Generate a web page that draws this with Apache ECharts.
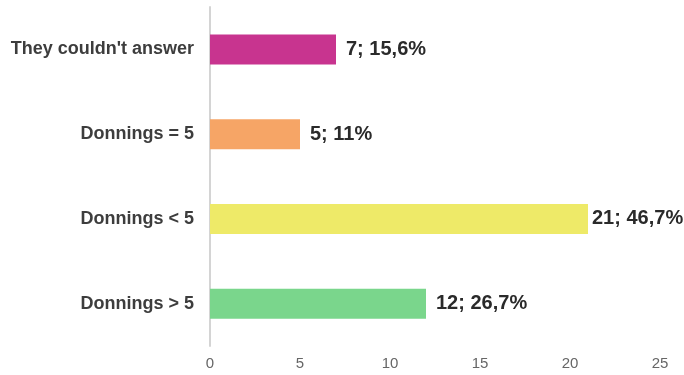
<!DOCTYPE html>
<html><head><meta charset="utf-8">
<script src="https://cdn.jsdelivr.net/npm/echarts@6/dist/echarts.min.js"></script>
<style>html,body{margin:0;padding:0;background:#fff}#c{width:684px;height:375px}</style>
</head><body><div id="c"></div>
<script>
const categories = ["Donnings > 5", "Donnings < 5", "Donnings = 5", "They couldn't answer"];
const values = [12, 21, 5, 7];
const labels = ["12; 26,7%", "21; 46,7%", "5; 11%", "7; 15,6%"];
const colors = ["#7ad68c", "#eeea68", "#f6a566", "#c8348f"];
const ticks = [0, 5, 10, 15, 20, 25];

const maxVal = Math.max(...values);
const chart = echarts.init(document.getElementById('c'), null, {renderer: 'canvas'});
chart.setOption({
  animation: false,
  grid: {left: 210, right: 24, top: 7, bottom: 29, containLabel: false},
  xAxis: {
    type: 'value', min: ticks[0], max: ticks[ticks.length - 1], interval: 5,
    axisLine: {show: false}, axisTick: {show: false}, splitLine: {show: false},
    axisLabel: {color: '#666', fontSize: 15, fontFamily: 'Liberation Sans, Arial', margin: 10}
  },
  yAxis: {
    type: 'category', data: categories,
    axisLine: {show: true, lineStyle: {color: '#d4d4d4', width: 2}},
    axisTick: {show: false},
    axisLabel: {color: '#3d3d3d', fontSize: 18, fontWeight: 'bold', fontFamily: 'Liberation Sans, Arial', margin: 16}
  },
  series: [{
    type: 'bar', barWidth: 30,
    data: values.map((v, i) => ({
      value: v, itemStyle: {color: colors[i]},
      label: {distance: v === maxVal ? 4 : 10}
    })),
    label: {
      show: true, position: 'right', distance: 10,
      formatter: p => labels[p.dataIndex],
      color: '#2a2a2a', fontSize: 20, fontWeight: 'bold', fontFamily: 'Liberation Sans, Arial'
    }
  }]
});
</script></body></html>
